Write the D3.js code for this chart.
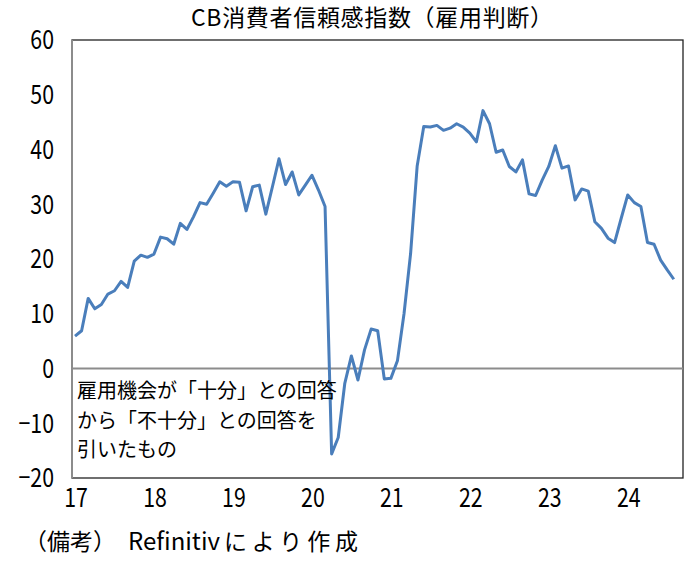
<!DOCTYPE html>
<html>
<head>
<meta charset="utf-8">
<script src="https://cdn.jsdelivr.net/npm/d3@7"></script>
<style>
  html, body { margin: 0; padding: 0; background: #fff; }
  svg { display: block; }
  text { font-family: "Noto Sans CJK JP", "Noto Sans", sans-serif; fill: #000; }
</style>
</head>
<body>
<svg id="chart" width="694" height="562"></svg>
<script>
// ---- data ----
const title = "CB消費者信頼感指数（雇用判断）";
const startYear = 2017;
const values = [
  5.9, 6.9, 12.8, 10.9, 11.7, 13.6, 14.2, 15.9, 14.8, 19.6, 20.7, 20.3,
  20.9, 24.0, 23.7, 22.7, 26.5, 25.4, 27.7, 30.3, 30.0, 32.0, 34.1, 33.3,
  34.1, 34.0, 28.8, 33.2, 33.5, 28.2, 33.2, 38.3, 33.6, 35.9, 31.7, 33.5,
  35.3, 32.6, 29.6, -15.6, -12.6, -2.7, 2.3, -2.1, 3.4, 7.2, 6.9, -1.9,
  -1.8, 1.4, 10.0, 21.0, 37.0, 44.2, 44.1, 44.4, 43.5, 43.9, 44.7, 44.1,
  43.0, 41.4, 47.1, 44.7, 39.5, 39.9, 36.9, 35.9, 38.1, 31.9, 31.6, 34.4,
  36.9, 40.7, 36.6, 37.0, 30.8, 32.8, 32.4, 26.8, 25.6, 23.8, 23.0, 27.4,
  31.7, 30.3, 29.6, 23.0, 22.7, 19.8, 18.0, 16.3
];
const xTickLabels = ["17", "18", "19", "20", "21", "22", "23", "24"];
const yTicks = [-20, -10, 0, 10, 20, 30, 40, 50, 60];
const noteLines = ["雇用機会が「十分」との回答", "から「不十分」との回答を", "引いたもの"];
const sourceParts = ["（備考）", "Refinitiv", "により作成"];

// ---- layout ----
const L = 72, R = 683, T = 40, B = 478;
const svg = d3.select("#chart");

const x = d3.scaleLinear().domain([-0.46, 92.4]).range([L, R]);
const y = d3.scaleLinear().domain([-20, 60]).range([B, T]);

// plot frame
svg.append("rect")
  .attr("x", L).attr("y", T).attr("width", R - L).attr("height", B - T)
  .attr("fill", "none").attr("stroke", "#222").attr("stroke-width", 1.3);

// zero line
svg.append("line")
  .attr("x1", L).attr("x2", R).attr("y1", y(0)).attr("y2", y(0))
  .attr("stroke", "#8c8c8c").attr("stroke-width", 2);

// y axis line
svg.append("line")
  .attr("x1", L).attr("x2", L).attr("y1", T).attr("y2", B)
  .attr("stroke", "#8c8c8c").attr("stroke-width", 2);

// y tick labels
const sx = 0.82;
svg.append("g").selectAll("text").data(yTicks).join("text")
  .attr("transform", d => `translate(54,${y(d)}) scale(${sx},1)`)
  .attr("text-anchor", "end")
  .attr("dy", "0.36em")
  .style("font-size", "26px")
  .text(d => d < 0 ? "\u2212" + Math.abs(d) : d);

// x tick labels
svg.append("g").selectAll("text").data(xTickLabels).join("text")
  .attr("transform", (d, i) => `translate(${x(i * 12) + 1},${498}) scale(${sx},1)`)
  .attr("text-anchor", "middle")
  .attr("dy", "0.36em")
  .style("font-size", "26px")
  .text(d => d);

// line
const line = d3.line().x((d, i) => x(i)).y(d => y(d));
svg.append("path")
  .datum(values)
  .attr("d", line)
  .attr("fill", "none")
  .attr("stroke", "#4a7ebb")
  .attr("stroke-width", 3)
  .attr("stroke-linejoin", "round");

// title
svg.append("text")
  .attr("x", 372).attr("y", 26)
  .attr("text-anchor", "middle")
  .attr("textLength", 362)
  .attr("lengthAdjust", "spacing")
  .style("font-size", "23px")
  .text(title);

// note
svg.append("g").selectAll("text").data(noteLines).join("text")
  .attr("x", 77)
  .attr("y", (d, i) => 398 + i * 29.5)
  .style("font-size", "20px")
  .text(d => d);

// source (monospace-like layout)
const srcY = 550;
svg.append("text")
  .attr("x", 24).attr("y", srcY)
  .style("font-size", "23px")
  .text(sourceParts[0]);
svg.append("text")
  .attr("x", 128).attr("y", srcY)
  .attr("textLength", 92).attr("lengthAdjust", "spacingAndGlyphs")
  .style("font-size", "24px")
  .text(sourceParts[1]);
svg.append("text")
  .attr("x", 224).attr("y", srcY)
  .attr("textLength", 134).attr("lengthAdjust", "spacing")
  .style("font-size", "23px")
  .text(sourceParts[2]);
</script>
</body>
</html>
